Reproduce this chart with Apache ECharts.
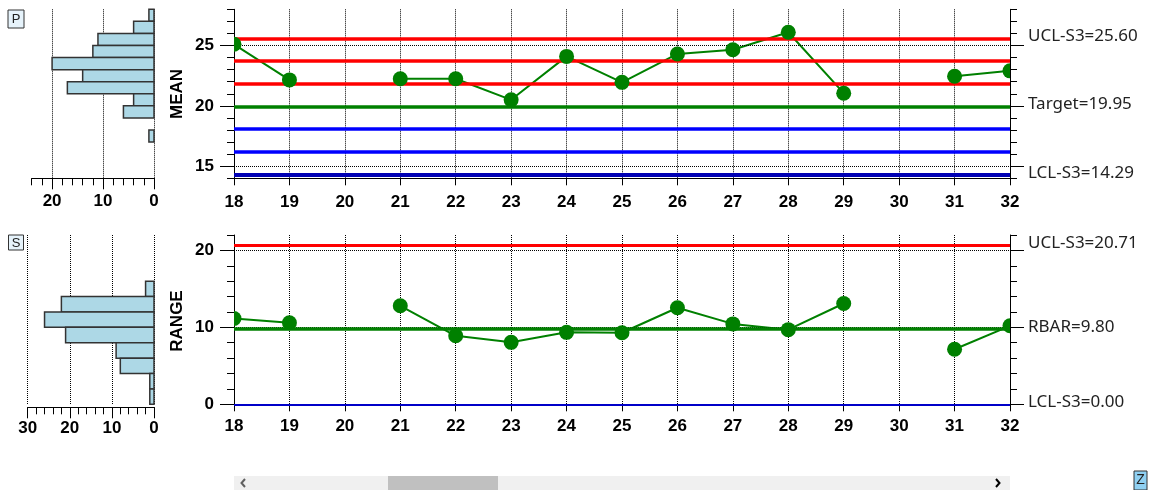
<!DOCTYPE html>
<html>
<head>
<meta charset="utf-8">
<script src="https://cdn.jsdelivr.net/npm/echarts@6/dist/echarts.min.js"></script>
<style>
  html, body { margin: 0; padding: 0; background: #fff; }
  #chart { width: 1151px; height: 490px; }
</style>
</head>
<body>
<div id="chart"></div>
<script>
// Sample numbers shown in the visible window of the control chart
const samples = [18, 19, 20, 21, 22, 23, 24, 25, 26, 27, 28, 29, 30, 31, 32];

// Subgroup means and ranges (null = no subgroup recorded)
const meanValues  = [25.1, 22.15, null, 22.25, 22.25, 20.5, 24.1, 21.95, 24.3, 24.65, 26.1, 21.05, null, 22.45, 22.9];
const rangeValues = [11.15, 10.6, null, 12.8, 8.9, 8.05, 9.35, 9.3, 12.55, 10.45, 9.7, 13.1, null, 7.15, 10.2];

// Control lines of the MEAN chart: UCL, +2s, +1s, target, -1s, -2s, LCL
const meanControl       = [25.60, 23.72, 21.83, 19.95, 18.07, 16.18, 14.29];
const meanControlNames  = ['UCL-S3', '', '', 'Target', '', '', 'LCL-S3'];
// Control lines of the RANGE chart
const rangeControl      = [20.71, 9.80, 0.00];
const rangeControlNames = ['UCL-S3', 'RBAR', 'LCL-S3'];

// Axis tick values
const meanMajorTicks  = [15, 20, 25];
const rangeMajorTicks = [0, 10, 20];

// Frequency histograms (bin lower edge, bin width, count)
const meanBinLow    = [27, 26, 25, 24, 23, 22, 21, 20, 19, 18, 17];
const meanBinWidth  = 1;
const meanBinCount  = [1, 4, 11, 12, 20, 14, 17, 4, 6, 0, 1];
const rangeBinLow   = [14, 12, 10, 8, 6, 4, 2, 0];
const rangeBinWidth = 2;
const rangeBinCount = [2, 22, 26, 21, 9, 8, 1, 1];

const RED = '#ff0000', GREEN = '#008000', BLUE = '#0000ff', NAVY = '#0000b4';
const meanLineColors  = [RED, RED, RED, GREEN, BLUE, BLUE, NAVY];
const meanLineWidths  = [3.5, 3.5, 3.5, 3.5, 3.5, 3.5, 4];
const rangeLineColors = [RED, GREEN, '#0000c8'];
const rangeLineWidths = [3, 3.5, 2];

const tickFont  = { color: '#000', fontFamily: 'Liberation Sans, Arial, sans-serif', fontWeight: 'bold', fontSize: 17 };
const labelFont = { color: '#222', fontFamily: 'Noto Sans, sans-serif', fontSize: 17 };
const dotted = { color: '#000', width: 1, type: 'dotted' };
const MARKER_R = 7.5;

const chart = echarts.init(document.getElementById('chart'), null, { renderer: 'canvas' });

function controlMarkLines(values, names, colors, widths) {
  return {
    silent: true,
    symbol: ['none', 'none'],
    animation: false,
    data: values.map((v, i) => ({
      yAxis: v,
      lineStyle: { color: colors[i], width: widths[i], type: 'solid' },
      label: names[i]
        ? Object.assign({ show: true, position: 'end', distance: 18, offset: [0, -2],
            formatter: names[i] + '=' + v.toFixed(2) }, labelFont)
        : { show: false }
    }))
  };
}

function gridMarkLines(values) {
  return {
    silent: true,
    symbol: ['none', 'none'],
    animation: false,
    label: { show: false },
    lineStyle: dotted,
    data: values.map(v => ({ yAxis: v }))
  };
}

function dataLine(xi, yi, values) {
  return {
    type: 'line', xAxisIndex: xi, yAxisIndex: yi, z: 4,
    data: samples.map((s, i) => [s, values[i]]),
    symbol: 'none', showSymbol: false, connectNulls: false, clip: true,
    lineStyle: { color: GREEN, width: 2 }
  };
}

// Round markers, cut off at the left/right edges of the plot area
function markers(xi, yi, values) {
  return {
    type: 'custom', xAxisIndex: xi, yAxisIndex: yi, z: 5,
    data: samples.map((s, i) => [s, values[i]]).filter(d => d[1] != null),
    renderItem: (params, api) => {
      const p = api.coord([api.value(0), api.value(1)]);
      const cs = params.coordSys;
      const L = cs.x, R = cs.x + cs.width, r = MARKER_R;
      const cx = p[0], cy = p[1];
      const style = { fill: GREEN };
      if (cx - L < r) {
        const d = cx - L, h = Math.sqrt(r * r - d * d);
        const large = d > 0 ? 1 : 0;
        return { type: 'path', shape: { pathData:
          `M${L},${cy - h} A${r},${r} 0 ${large} 1 ${L},${cy + h} Z` }, style };
      }
      if (R - cx < r) {
        const d = R - cx, h = Math.sqrt(r * r - d * d);
        const large = d > 0 ? 1 : 0;
        return { type: 'path', shape: { pathData:
          `M${R},${cy + h} A${r},${r} 0 ${large} 1 ${R},${cy - h} Z` }, style };
      }
      return { type: 'circle', shape: { cx: cx, cy: cy, r: r }, style };
    }
  };
}

function histogram(xi, yi, lows, width, counts) {
  return {
    type: 'custom', xAxisIndex: xi, yAxisIndex: yi, z: 3,
    encode: { x: 2, y: [0, 1] },
    data: lows.map((lo, i) => [lo, lo + width, counts[i]]).filter(d => d[2] > 0),
    renderItem: (params, api) => {
      const a = api.coord([0, api.value(1)]);
      const b = api.coord([api.value(2), api.value(0)]);
      return {
        type: 'rect',
        shape: { x: Math.min(a[0], b[0]), y: a[1], width: Math.abs(b[0] - a[0]), height: b[1] - a[1] },
        style: { fill: '#add8e6', stroke: '#333', lineWidth: 1.5 }
      };
    }
  };
}

function sampleAxis(grid, margin) {
  return {
    gridIndex: grid, type: 'value', min: 18, max: 32, interval: 1, position: 'bottom',
    axisLine: { show: true, onZero: false, lineStyle: { color: '#000', width: 1 } },
    axisTick: { show: true, length: 7, lineStyle: { color: '#000' } },
    axisLabel: Object.assign({ show: true, margin: margin }, tickFont),
    splitLine: { show: true, lineStyle: dotted }
  };
}

function valueAxes(grid, min, max, interval, majors, withLabels) {
  const base = { gridIndex: grid, type: 'value', min: min, max: max, interval: interval, splitLine: { show: false } };
  return [
    Object.assign({}, base, { position: 'left',
      axisLine: { show: true, onZero: false, lineStyle: { color: '#000' } },
      axisTick: { show: true, length: 7, lineStyle: { color: '#000' } },
      axisLabel: { show: false } }),
    Object.assign({}, base, { position: 'left',
      axisLine: { show: false, onZero: false },
      axisTick: { show: true, length: 14, customValues: majors, lineStyle: { color: '#000' } },
      axisLabel: Object.assign({ show: withLabels, margin: 20, customValues: majors }, tickFont) }),
    Object.assign({}, base, { position: 'right',
      axisLine: { show: true, onZero: false, lineStyle: { color: '#000' } },
      axisTick: { show: true, length: 7, lineStyle: { color: '#000' } },
      axisLabel: { show: false } }),
    Object.assign({}, base, { position: 'right',
      axisLine: { show: false, onZero: false },
      axisTick: { show: true, length: 14, customValues: majors, lineStyle: { color: '#000' } },
      axisLabel: { show: false } })
  ];
}

function hiddenY(grid, min, max) {
  return { gridIndex: grid, type: 'value', min: min, max: max, show: false, splitLine: { show: false } };
}

function histMinorAxis(grid, max, offset) {
  return {
    gridIndex: grid, type: 'value', min: 0, max: max, interval: 2, inverse: true, position: 'bottom', offset: offset,
    axisLine: { show: true, onZero: false, lineStyle: { color: '#000', width: 1 } },
    axisTick: { show: true, length: 7, lineStyle: { color: '#000' } },
    axisLabel: { show: false },
    splitLine: { show: false }
  };
}

function histMajorAxis(grid, max, offset, margin) {
  return {
    gridIndex: grid, type: 'value', min: 0, max: max, interval: 10, inverse: true, position: 'bottom', offset: offset,
    axisLine: { show: false, onZero: false },
    axisTick: { show: true, length: 11, lineStyle: { color: '#000' } },
    axisLabel: Object.assign({ show: true, margin: margin }, tickFont),
    splitLine: { show: true, lineStyle: dotted }
  };
}

const yAxes = [].concat(
  valueAxes(0, 14, 28, 1, meanMajorTicks, true),    // 0..3
  valueAxes(1, 0, 22, 2, rangeMajorTicks, true),    // 4..7
  [hiddenY(2, 14, 28), hiddenY(3, 14, 28), hiddenY(4, 0, 22)] // 8..10
);

const option = {
  animation: false,
  backgroundColor: '#fff',
  grid: [
    { left: 234, top: 9.3, width: 776, height: 169 },       // MEAN chart
    { left: 234, top: 235, width: 776, height: 169.3 },     // RANGE chart
    { left: 31.7, top: 9.3, width: 122.3, height: 169 },    // MEAN histogram (0..24)
    { left: 52.1, top: 9.3, width: 101.9, height: 169 },    // MEAN histogram (0..20 majors)
    { left: 27.7, top: 235, width: 126.3, height: 169.3 }   // RANGE histogram (0..30)
  ],
  xAxis: [
    sampleAxis(0, 16),
    sampleAxis(1, 14),
    histMinorAxis(2, 24, 0),
    histMajorAxis(3, 20, 0, 15),
    histMinorAxis(4, 30, 3),
    histMajorAxis(4, 30, 3, 13)
  ],
  yAxis: yAxes,
  series: [
    // dotted horizontal grid lines
    { type: 'line', xAxisIndex: 0, yAxisIndex: 0, data: [], z: 1, markLine: gridMarkLines(meanMajorTicks) },
    { type: 'line', xAxisIndex: 1, yAxisIndex: 4, data: [], z: 1, markLine: gridMarkLines(rangeMajorTicks) },
    // control lines
    { type: 'line', xAxisIndex: 0, yAxisIndex: 0, data: [], z: 2,
      markLine: controlMarkLines(meanControl, meanControlNames, meanLineColors, meanLineWidths) },
    { type: 'line', xAxisIndex: 1, yAxisIndex: 4, data: [], z: 2,
      markLine: controlMarkLines(rangeControl, rangeControlNames, rangeLineColors, rangeLineWidths) },
    // data
    dataLine(0, 0, meanValues),
    markers(0, 0, meanValues),
    dataLine(1, 4, rangeValues),
    markers(1, 4, rangeValues),
    // histograms
    histogram(2, 8, meanBinLow, meanBinWidth, meanBinCount),
    histogram(4, 10, rangeBinLow, rangeBinWidth, rangeBinCount)
  ],
  graphic: [
    // chart tags
    { type: 'rect', shape: { x: 8, y: 10, width: 16, height: 18 }, style: { fill: '#e6f3fb', stroke: '#333', lineWidth: 1 } },
    { type: 'text', x: 16, y: 19.5, style: { text: 'P', fill: '#222', font: '13px Liberation Sans, Arial, sans-serif', textAlign: 'center', textVerticalAlign: 'middle' } },
    { type: 'rect', shape: { x: 8.5, y: 235, width: 15, height: 15 }, style: { fill: '#e6f3fb', stroke: '#333', lineWidth: 1 } },
    { type: 'text', x: 16, y: 243, style: { text: 'S', fill: '#222', font: '13px Liberation Sans, Arial, sans-serif', textAlign: 'center', textVerticalAlign: 'middle' } },
    // axis titles
    { type: 'text', x: 177, y: 94, rotation: Math.PI / 2,
      style: { text: 'MEAN', fill: '#000', font: 'bold 17px Liberation Sans, Arial, sans-serif', textAlign: 'center', textVerticalAlign: 'middle' } },
    { type: 'text', x: 177, y: 321, rotation: Math.PI / 2,
      style: { text: 'RANGE', fill: '#000', font: 'bold 17px Liberation Sans, Arial, sans-serif', textAlign: 'center', textVerticalAlign: 'middle' } },
    // horizontal scrollbar
    { type: 'rect', shape: { x: 234, y: 476, width: 776, height: 14 }, style: { fill: '#f0f0f0' } },
    { type: 'rect', shape: { x: 388, y: 476, width: 110, height: 14 }, style: { fill: '#c0c0c0' } },
    { type: 'polyline', shape: { points: [[245, 479], [241.5, 483], [245, 487]] }, style: { stroke: '#606060', lineWidth: 2, fill: null } },
    { type: 'polyline', shape: { points: [[996, 479], [999.5, 483], [996, 487]] }, style: { stroke: '#000', lineWidth: 2, fill: null } },
    // zoom tag
    { type: 'rect', shape: { x: 1134, y: 471, width: 13, height: 19 }, style: { fill: '#8fd0f2', stroke: '#333', lineWidth: 1 } },
    { type: 'text', x: 1140.5, y: 480.5, style: { text: 'Z', fill: '#222', font: '14px Liberation Sans, Arial, sans-serif', textAlign: 'center', textVerticalAlign: 'middle' } }
  ]
};

chart.setOption(option);
</script>
</body>
</html>
